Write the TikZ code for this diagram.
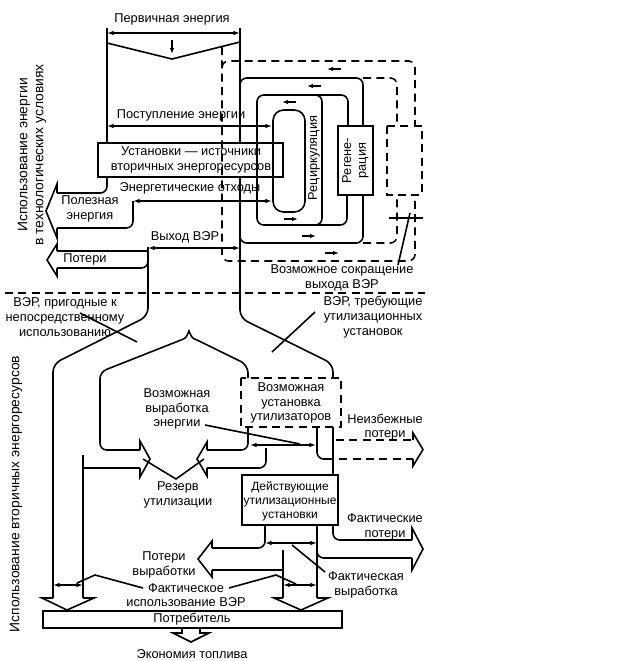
\documentclass[tikz,border=0pt]{standalone}
\usepackage{fontspec}
\setmainfont{Liberation Sans}
\usetikzlibrary{arrows.meta}

\begin{document}
\begin{tikzpicture}[x=0.75pt,y=0.75pt,yscale=-1,xscale=1,
  flow/.style={line width=1.2pt},
  dashflow/.style={line width=1.2pt,dash pattern={on 6pt off 4pt}},
  dimarrow/.style={line width=0.9pt,{Latex[length=5pt,width=3.4pt]}-{Latex[length=5pt,width=3.4pt]}},
  dirarrow/.style={line width=1.2pt,-{Latex[length=4.5pt,width=3.4pt]}},
  thickbox/.style={line width=1.8pt},
  txt/.style={inner sep=0.75pt,align=center,font=\fontsize{9.6}{11}\selectfont},
  boxtxt/.style={inner sep=0.75pt,align=center,font=\fontsize{9}{10.5}\selectfont},
  sidetxt/.style={inner sep=0.75pt,align=center,rotate=90,font=\fontsize{10.4}{12}\selectfont}]
\useasboundingbox (0,0) rectangle (619,661);

%Straight Lines: primary energy
\draw [dimarrow] (107,33) -- (240,33) ;
\draw [flow] (107,28) -- (107,143) ;
\draw [flow] (240,28) -- (240,143) ;
\draw [flow] (107,43) -- (172,59) -- (240,42) ;
\draw [dirarrow] (172,40) -- (172,54) ;

%Shape: Rectangle (sources)
\draw [thickbox] (98,143) rectangle (283,177) ;

%Straight Lines: input and waste
\draw [dimarrow] (107,126) -- (272,126) ;
\draw [dimarrow] (133,201) -- (272,201) ;

%Shape: useful energy arrow
\draw [flow,rounded corners=5] (107,177) -- (107,193) -- (57,193) ;
\draw [flow,rounded corners=5] (133,201) -- (133,228) -- (57,228) ;
\draw [flow] (57,193) -- (57,184) -- (46,211) -- (57,238) -- (57,228) ;

%Shape: output and losses
\draw [dimarrow] (148,248) -- (240,248) ;
\draw [flow] (148,251) -- (57,251) ;
\draw [flow,rounded corners=5] (148,260) -- (148,268) -- (57,268) ;
\draw [flow] (57,251) -- (57,244) -- (47,260) -- (57,276) -- (57,268) ;

%Shape: recirculation loops
\draw [flow,rounded corners=8] (273,110) rectangle (305,212) ;
\draw [flow,rounded corners=5] (348,126) -- (348,95) -- (257,95) -- (257,225) -- (347,225) -- (347,195) ;
\draw [flow,rounded corners=5] (312,95) -- (322,95) -- (322,225) -- (312,225) ;
\draw [flow,rounded corners=5] (240,86) -- (240,78) -- (363,78) -- (363,126) ;
\draw [flow,rounded corners=5] (240,235) -- (240,243) -- (363,243) -- (363,195) ;
\draw [flow] (338,126) rectangle (373,195) ;

%Shape: possible reduction (dashed)
\draw [dashflow,rounded corners=5] (363,78) -- (397,78) -- (397,126) ;
\draw [dashflow,rounded corners=5] (363,243) -- (397,243) -- (397,195) ;
\draw [dashflow,rounded corners=5] (222,68) -- (222,61) -- (415,61) -- (415,126) ;
\draw [dashflow,rounded corners=5] (222,47) -- (222,261) -- (415,261) -- (415,195) ;
\draw [dashflow] (387,126) rectangle (422,195) ;
\draw [flow] (389,218) -- (423,218) ;
\draw [flow] (398,265) -- (410,213) ;

%Straight Lines: flow direction
\draw [dirarrow] (341,69) -- (327,69) ;
\draw [dirarrow] (321,86) -- (307,86) ;
\draw [dirarrow] (296,102) -- (282,102) ;
\draw [dirarrow] (284,219) -- (298,219) ;
\draw [dirarrow] (302,236) -- (316,236) ;
\draw [dirarrow] (325,253) -- (339,253) ;

%Straight Lines: border of the two zones
\draw [dashflow] (5,293) -- (425,293) ;

%Shape: split of the output
\draw [flow,rounded corners=6] (148,247) -- (148,316) -- (53,364) -- (53,598) ;
\draw [flow,rounded corners=6] (240,177) -- (240,318) -- (333,364) -- (333,378) ;
\draw [flow,rounded corners=5] (140,450) -- (100,450) -- (100,372) -- (181,340) ;
\draw [flow] (181,340) .. controls (186,338) .. (189,331) .. controls (192,338) .. (197,340) ;
\draw [flow,rounded corners=6] (197,340) -- (248,365) -- (248,378) ;
\draw [flow] (80,313) -- (137,342) ;
\draw [flow] (315,312) -- (272,352) ;

%Shape: possible plants (dashed box)
\draw [dashflow,line width=1.8pt] (241,378) rectangle (341,427) ;

%Shape: reserve arrows
\draw [flow] (83,455) -- (83,598) ;
\draw [flow] (83,468) -- (140,468) ;
\draw [flow] (140,450) -- (140,441) -- (150,459) -- (140,477) -- (140,468) ;
\draw [flow,rounded corners=5] (248,427) -- (248,450) -- (207,450) ;
\draw [flow,rounded corners=5] (266,448) -- (266,468) -- (207,468) ;
\draw [flow] (207,450) -- (207,442) -- (197,459) -- (207,476) -- (207,468) ;
\draw [flow] (143,459) -- (176,479) -- (204,459) ;
\draw [dimarrow] (250,445) -- (316,445) ;
\draw [flow] (205,425) -- (300,444) ;

%Shape: unavoidable losses
\draw [flow,rounded corners=5] (317,427) -- (317,459) -- (326,459) ;
\draw [dashflow] (326,459) -- (413,459) ;
\draw [dashflow] (336,440) -- (413,440) ;
\draw [flow] (413,440) -- (413,433) -- (423,449.5) -- (413,466) -- (413,459) ;
\draw [flow] (333,427) -- (333,475) ;

%Shape: Rectangle (working plants)
\draw [thickbox] (242,475) rectangle (338,525) ;

%Shape: generation losses and actual losses
\draw [flow,rounded corners=5] (265,525) -- (265,548) -- (212,548) ;
\draw [flow] (283,550) -- (283,598) ;
\draw [flow] (283,570) -- (212,570) ;
\draw [flow] (212,548) -- (212,541) -- (198,559) -- (212,577) -- (212,570) ;
\draw [flow] (317,525) -- (317,598) ;
\draw [flow,rounded corners=5] (333,525) -- (333,540) -- (412,540) ;
\draw [flow,rounded corners=5] (317,550) -- (317,558) -- (412,558) ;
\draw [flow] (412,540) -- (412,528) -- (423,549) -- (412,570) -- (412,558) ;
\draw [dimarrow] (265,543) -- (317,543) ;
\draw [flow] (325,572) -- (292,545) ;

%Shape: arrows to consumer
\draw [flow] (53,598) -- (42,598) -- (67,610) -- (94,598) -- (83,598) ;
\draw [flow] (283,598) -- (274,598) -- (301,610) -- (328,598) -- (317,598) ;
\draw [dimarrow] (53,585) -- (83,585) ;
\draw [dimarrow] (283,585) -- (317,585) ;
\draw [flow] (143,588) -- (95,575) -- (77,583) ;
\draw [flow] (229,588) -- (276,575) -- (296,584) ;

%Shape: Rectangle (consumer)
\draw [flow] (43,611) rectangle (342,628) ;
\draw [flow] (182,628) -- (182,633) -- (173,633) -- (191,642) -- (209,633) -- (200,633) -- (200,628) ;

% Text Node
\node (prim) at (172,19) [txt] {Первичная энергия};
% Text Node
\node (inp) at (181,115) [txt] {Поступление энергии};
% Text Node
\node (src) at (191,160) [txt] {Установки — источники\\вторичных энергоресурсов};
% Text Node
\node (waste) at (190,188) [txt] {Энергетические отходы};
% Text Node
\node (useful) at (90,209) [txt] {Полезная\\энергия};
% Text Node
\node (out) at (185,237) [txt] {Выход ВЭР};
% Text Node
\node (loss) at (85,259) [txt] {Потери};
% Text Node
\node (recirc) at (314,158) [txt,rotate=90] {Рециркуляция};
% Text Node
\node (regen) at (355.5,160.5) [txt,rotate=90] {Регене-\\рация};
% Text Node
\node (reduce) at (342,278) [txt] {Возможное сокращение\\выхода ВЭР};
% Text Node
\node (techuse) at (32,155) [sidetxt] {Использование энергии\\в технологических условиях};
% Text Node
\node (direct) at (65,317) [txt] {ВЭР, пригодные к\\непосредственному\\использованию};
% Text Node
\node (needs) at (373,317) [txt] {ВЭР, требующие\\утилизационных\\установок};
% Text Node
\node (secuse) at (16,494) [sidetxt] {Использование вторичных энергоресурсов};
% Text Node
\node (posgen) at (177,409) [txt] {Возможная\\выработка\\энергии};
% Text Node
\node (posplant) at (291,403) [txt] {Возможная\\установка\\утилизаторов};
% Text Node
\node (unavoid) at (385,427) [txt] {Неизбежные\\потери};
% Text Node
\node (reserve) at (178,495) [txt] {Резерв\\утилизации};
% Text Node
\node (plant) at (290,501) [boxtxt] {Действующие\\утилизационные\\установки};
% Text Node
\node (actloss) at (385,527) [txt] {Фактические\\потери};
% Text Node
\node (genloss) at (164,565) [txt] {Потери\\выработки};
% Text Node
\node (actgen) at (366,585) [txt] {Фактическая\\выработка};
% Text Node
\node (actuse) at (186,595) [txt] {Фактическое\\использование ВЭР};
% Text Node
\node (cons) at (192,619.5) [txt] {Потребитель};
% Text Node
\node (save) at (192,654) [txt] {Экономия топлива};
\end{tikzpicture}
\end{document}
